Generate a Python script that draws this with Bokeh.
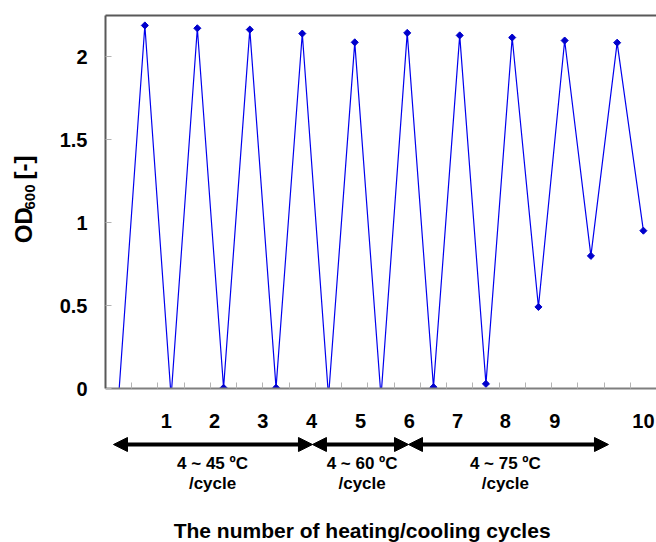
import math
from bokeh.plotting import figure
from bokeh.layouts import column, row
from bokeh.models import (Range1d, FixedTicker, LinearAxis, CustomJSTickFormatter,
                          Arrow, NormalHead)
from bokeh.core.properties import value
from bokeh.embed import file_html
from bokeh.resources import INLINE

# ---- data ----
cycles = [0, 0.5, 1, 1.5, 2, 2.5, 3, 3.5, 4, 4.5, 5, 5.5, 6, 6.5, 7, 7.5, 8, 8.5, 9, 9.5, 10]
od600 = [-0.05, 2.19, -0.05, 2.173, 0.004, 2.165, 0.004, 2.141, -0.05, 2.088, -0.05,
         2.145, 0.008, 2.130, 0.028, 2.117, 0.492, 2.099, 0.800, 2.086, 0.952]

y_ticks = [0, 0.5, 1, 1.5, 2]
x_tick_marks = [0.25, 0.75, 1.25, 1.75, 2.25, 2.75, 3.25, 3.75, 4.25, 4.75, 5.25,
                5.75, 6.25, 6.75, 7.25, 7.75, 8.25, 8.75, 9.25, 9.75]
cycle_labels = ["1", "2", "3", "4", "5", "6", "7", "8", "9", "10"]
cycle_label_pos = [0.91, 1.83, 2.75, 3.675, 4.61, 5.54, 6.46, 7.37, 8.31, 10.0]
range_names = ["4 ~ 45 \u00baC", "4 ~ 60 \u00baC", "4 ~ 75 \u00baC"]
range_sub = ["/cycle", "/cycle", "/cycle"]
range_label_pos = [1.79, 4.64, 7.37]
range_start = [-0.098, 3.694, 5.524]
range_end = [3.694, 5.524, 9.335]
x_title = "The number of heating/cooling cycles"
y_title_parts = ["OD", "600", "[-]"]

FONT = "Liberation Sans"
TOP_H = 398

xr = Range1d(-0.25, 10.25)

# ---- left strip holding the rotated y title ----
pl = figure(width=40, height=TOP_H, x_range=Range1d(0, 40), y_range=Range1d(TOP_H, 0),
            output_backend="svg", toolbar_location=None, x_axis_type=None, y_axis_type=None,
            min_border_left=0, min_border_right=0, min_border_top=0, min_border_bottom=0)
pl.xgrid.visible = False
pl.ygrid.visible = False
pl.outline_line_color = None
pl.border_fill_color = "white"
pl.text(x=[23, 29, 23], y=[243, 207, 175], text=y_title_parts,
        angle=math.pi / 2, text_font=value(FONT), text_font_style="bold",
        text_font_size=["24px", "15px", "24px"],
        text_align="left", text_baseline="alphabetic", text_color="black")

# ---- main chart ----
p = figure(width=616, height=TOP_H, x_range=xr, y_range=Range1d(0, 2.25),
           output_backend="svg", toolbar_location=None,
           min_border_left=65, min_border_right=0, min_border_top=15, min_border_bottom=10)
p.xgrid.visible = False
p.ygrid.visible = False
p.outline_line_color = None
p.background_fill_color = "white"
p.border_fill_color = "white"

xa = p.xaxis[0]
xa.ticker = FixedTicker(ticks=x_tick_marks)
xa.formatter = CustomJSTickFormatter(code='return "";')
xa.major_tick_in = 6
xa.major_tick_out = 0
xa.minor_tick_line_color = None
xa.major_tick_line_color = "#b3b3b3"
xa.axis_line_color = "#7f7f7f"
xa.axis_line_width = 2
xa.major_label_text_font_size = "1px"
xa.major_label_standoff = 0

ya = p.yaxis[0]
ya.ticker = FixedTicker(ticks=y_ticks)
ya.formatter = CustomJSTickFormatter(code="return tick.toString();")
ya.major_label_text_font = FONT
ya.major_label_text_font_style = "bold"
ya.major_label_text_font_size = "20px"
ya.major_label_text_color = "black"
ya.major_label_standoff = 18
ya.major_tick_in = 6
ya.major_tick_out = 0
ya.minor_tick_line_color = None
ya.major_tick_line_color = "#b3b3b3"
ya.axis_line_color = "#595959"
ya.axis_line_width = 2

top = LinearAxis(ticker=FixedTicker(ticks=[]), axis_line_color="#595959", axis_line_width=2,
                 major_tick_line_color=None, minor_tick_line_color=None,
                 major_label_text_font_size="1px", major_label_standoff=0)
p.add_layout(top, "above")

p.line(cycles, od600, line_color="#0000EE", line_width=1.2)
p.scatter(cycles, od600, marker="square", angle=math.pi / 4, size=5,
          fill_color="#0000CC", line_color="#0000CC")

# ---- annotation strip below ----
p2 = figure(width=656, height=542 - TOP_H, x_range=xr, y_range=Range1d(542, TOP_H),
            output_backend="svg", toolbar_location=None,
            x_axis_type=None, y_axis_type=None,
            min_border_left=105, min_border_right=0, min_border_top=0, min_border_bottom=0)
p2.xgrid.visible = False
p2.ygrid.visible = False
p2.outline_line_color = None
p2.background_fill_color = "white"
p2.border_fill_color = "white"

p2.text(x=cycle_label_pos, y=[420] * len(cycle_labels), text=cycle_labels,
        text_font=value(FONT), text_font_style="bold", text_font_size="20px",
        text_align="center", text_baseline="alphabetic", text_color="black")

for xs, xe in zip(range_start, range_end):
    p2.add_layout(Arrow(x_start=xs, y_start=444, x_end=xe, y_end=444,
                        line_width=4, line_color="black",
                        start=NormalHead(size=14, fill_color="black", line_color="black", line_width=1),
                        end=NormalHead(size=14, fill_color="black", line_color="black", line_width=1)))

p2.text(x=range_label_pos, y=[463] * 3, text=range_names,
        text_font=value(FONT), text_font_style="bold", text_font_size="17px",
        text_align="center", text_baseline="alphabetic", text_color="black")
p2.text(x=range_label_pos, y=[483] * 3, text=range_sub,
        text_font=value(FONT), text_font_style="bold", text_font_size="17px",
        text_align="center", text_baseline="alphabetic", text_color="black")
p2.text(x=[4.64], y=[530], text=[x_title],
        text_font=value(FONT), text_font_style="bold", text_font_size="21px",
        text_align="center", text_baseline="alphabetic", text_color="black")

layout = column(row(pl, p, spacing=0), p2, spacing=0)
open("out.html", "w").write(file_html(layout, INLINE))
